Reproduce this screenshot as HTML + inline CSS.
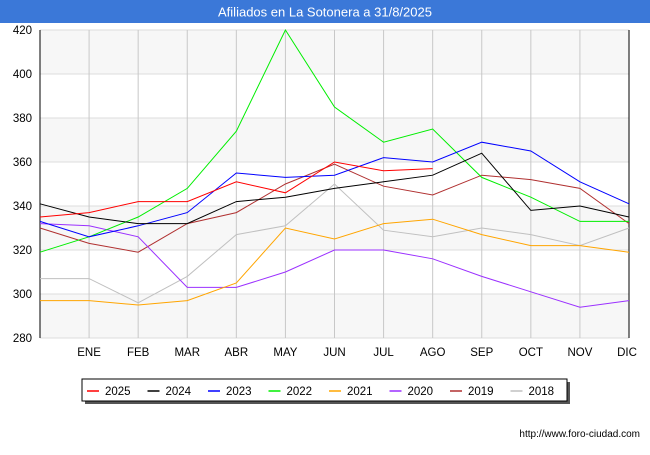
<!DOCTYPE html>
<html><head><meta charset="utf-8"><style>
body{margin:0;width:650px;height:450px;background:#fff;font-family:"Liberation Sans",sans-serif;overflow:hidden}
</style></head><body>
<svg width="650" height="450">
<rect x="0" y="0" width="650" height="23" fill="#3b78d8"/>
<text x="325" y="16.5" text-anchor="middle" fill="#fff" font-size="13">Afiliados en La Sotonera a 31/8/2025</text>
<g id="plot"></g>
<text x="640" y="437" text-anchor="end" font-size="10" fill="#000">http://www.foro-ciudad.com</text>
</svg>
<script>
const months=["","ENE","FEB","MAR","ABR","MAY","JUN","JUL","AGO","SEP","OCT","NOV","DIC"];
const yTicks=[280,300,320,340,360,380,400,420];
const seriesNames=["2025","2024","2023","2022","2021","2020","2019","2018"];
const seriesColors=["#ff0000","#000000","#0000ff","#00ee00","#ffa500","#9b30ff","#b03030","#c0c0c0"];
const s2025=[335,337,342,342,351,346,360,356,357];
const s2024=[341,335,332,332,342,344,348,351,354,364,338,340,335];
const s2023=[333,326,331,337,355,353,354,362,360,369,365,351,341];
const s2022=[319,326,335,348,374,420,385,369,375,353,344,333,333];
const s2021=[297,297,295,297,305,330,325,332,334,327,322,322,319];
const s2020=[332,331,326,303,303,310,320,320,316,308,301,294,297];
const s2019=[330,323,319,332,337,350,359,349,345,354,352,348,332];
const s2018=[307,307,296,308,327,331,350,329,326,330,327,322,330];
const allSeries=[s2025,s2024,s2023,s2022,s2021,s2020,s2019,s2018];
const NS="http://www.w3.org/2000/svg";
const X0=40,X1=629,Y0=338,Y1=30,VMIN=280,VMAX=420;
const xs=i=>X0+(X1-X0)*i/12;
const ys=v=>Y0-(v-VMIN)/(VMAX-VMIN)*(Y0-Y1);
const g=document.getElementById('plot');
function mk(t,a){const e=document.createElementNS(NS,t);for(const k in a)e.setAttribute(k,a[k]);g.appendChild(e);return e;}
let bg=mk('rect',{x:X0,y:Y1,width:X1-X0,height:Y0-Y1,fill:'#fff'});


for(let i=0;i<yTicks.length-1;i++){if(i%2==0){let b=mk('rect',{x:X0,y:ys(yTicks[i+1]),width:X1-X0,height:ys(yTicks[i])-ys(yTicks[i+1]),fill:'#f7f7f7'});

}}
yTicks.forEach(v=>{let l=mk('line',{x1:X0,x2:X1,y1:ys(v),y2:ys(v),stroke:'#dddddd'});


let t=mk('text',{x:X0-8,y:ys(v)+4,'text-anchor':'end','font-size':'11.5',fill:'#000'});t.textContent=v;

});
months.forEach((m,i)=>{if(i==0)return;let l=mk('line',{x1:xs(i),x2:xs(i),y1:Y1,y2:Y0,stroke:'#c8c8c8'});


let t=mk('text',{x:xs(i)-(i==12?2:0),y:356,'text-anchor':'middle','font-size':'11.5',fill:'#000'});t.textContent=m;

});
let ax=mk('line',{x1:X0,x2:X0,y1:Y1,y2:Y0,stroke:'#000'});


let ax2=mk('line',{x1:X1,x2:X1,y1:Y1,y2:Y0,stroke:'#000'});


for(let k=allSeries.length-1;k>=0;k--){const d=allSeries[k];
let p=mk('polyline',{points:d.map((v,i)=>xs(i)+','+ys(v)).join(' '),fill:'none',stroke:seriesColors[k],'stroke-width':1});

}
let sh=mk('rect',{x:85,y:382,width:485,height:22,fill:'#555'});


let lb=mk('rect',{x:82,y:379,width:485,height:22,fill:'#fff',stroke:'#000'});


seriesNames.forEach((n,k)=>{const x=87+k*60.5;
let l=mk('line',{x1:x,x2:x+12,y1:391,y2:391,stroke:seriesColors[k],'stroke-width':1.5});


let t=mk('text',{x:x+18,y:395,'font-size':'11.5',fill:'#000'});t.textContent=n;

});
</script>
</body></html>
